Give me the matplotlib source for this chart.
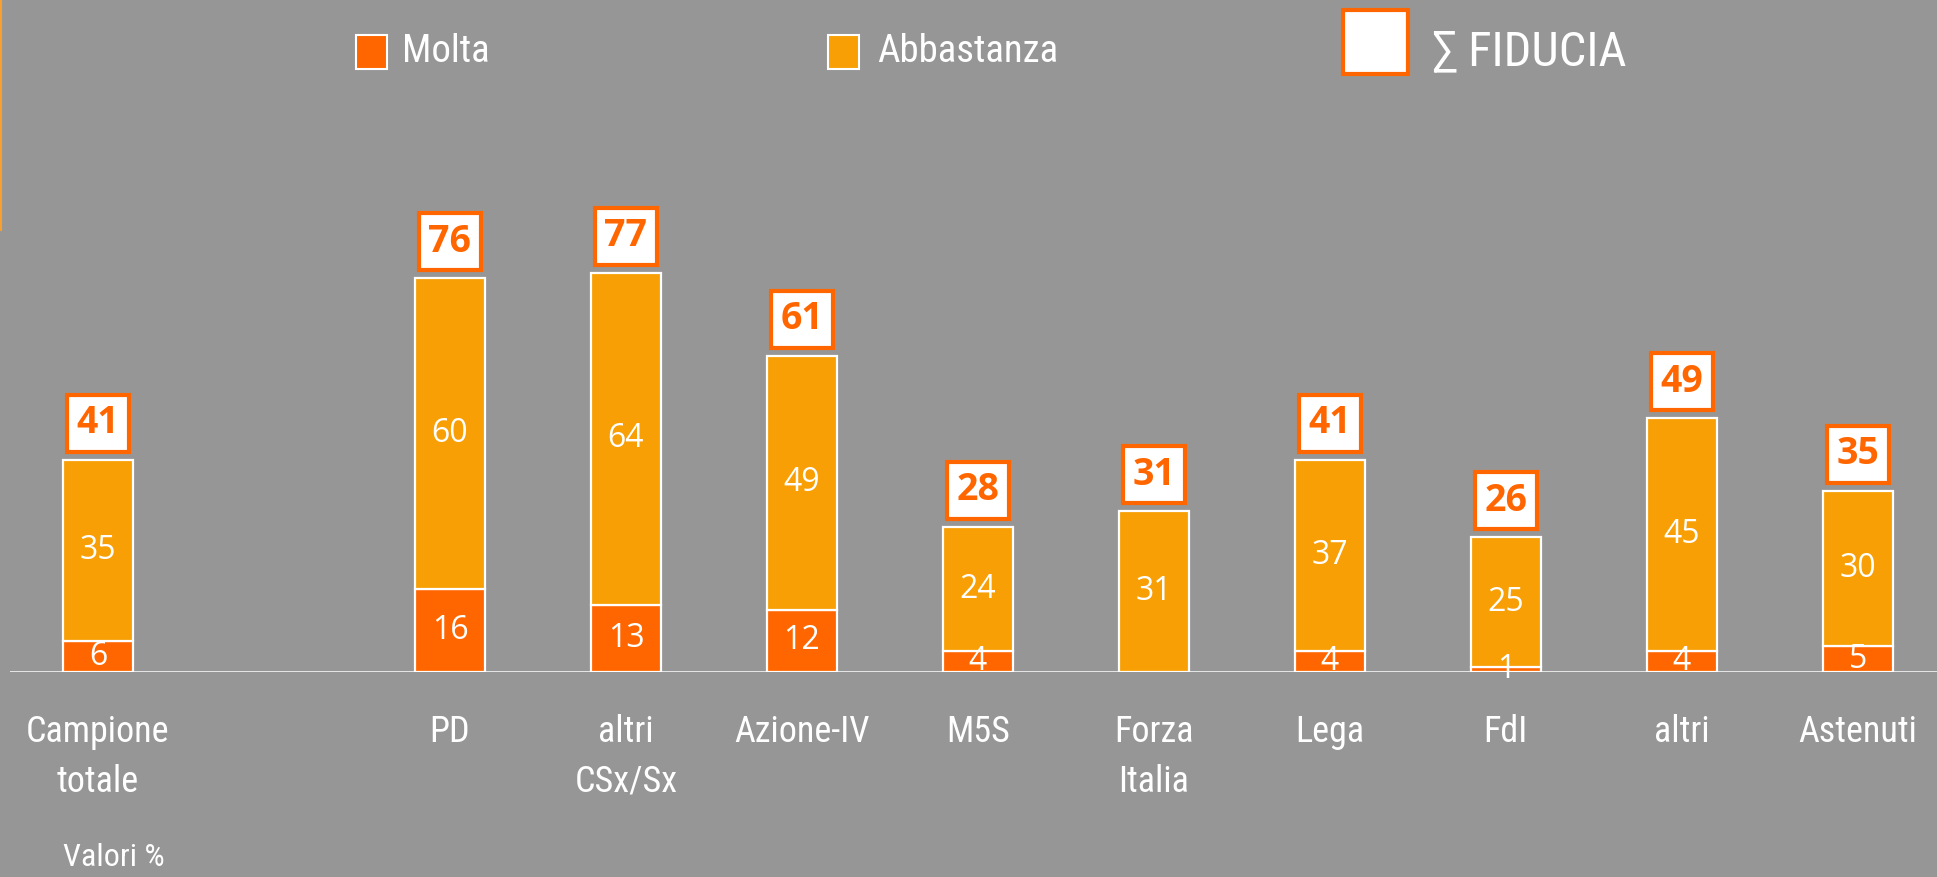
import matplotlib
matplotlib.use("Agg")
import matplotlib.pyplot as plt
from matplotlib import font_manager as fm
from matplotlib.patches import Rectangle
from matplotlib.lines import Line2D

categories = ["Campione\ntotale", "PD", "altri\nCSx/Sx", "Azione-IV", "M5S",
              "Forza\nItalia", "Lega", "FdI", "altri", "Astenuti"]
positions = [0, 2, 3, 4, 5, 6, 7, 8, 9, 10]
molta = [6, 16, 13, 12, 4, 0, 4, 1, 4, 5]
abbastanza = [35, 60, 64, 49, 24, 31, 37, 25, 45, 30]
fiducia = [41, 76, 77, 61, 28, 31, 41, 26, 49, 35]

BG = "#969696"
C_MOLTA = "#FF6600"
C_ABB = "#F79F04"

names = {f.name for f in fm.fontManager.ttflist}
cond = None
for cand in ["Roboto Condensed", "Liberation Sans Narrow", "Open Sans Condensed"]:
    if cand in names:
        cond = cand
        break
if cond is None:
    cond_kw = dict(family="DejaVu Sans", stretch="condensed")
else:
    cond_kw = dict(family=cond)
num_font = "Open Sans" if "Open Sans" in names else "DejaVu Sans"

W, H = 1937, 877
AX_L, AX_W, AX_H = 10, W - 10, 526
XLIM = (-0.5, 10.45)
YLIM = (0, 101.5)

fig = plt.figure(figsize=(W / 100, H / 100), dpi=100, facecolor=BG)
ax = fig.add_axes([AX_L / W, 1 - 672 / H, AX_W / W, AX_H / H])
ax.set_facecolor(BG)
ax.set_xlim(*XLIM)
ax.set_ylim(*YLIM)
for s in ax.spines.values():
    s.set_visible(False)
ax.set_xticks([])
ax.set_yticks([])
ax.axhline(0, color="white", lw=1.8, zorder=5)

ppx = AX_W / (XLIM[1] - XLIM[0])   # pixels per x unit
ppy = AX_H / (YLIM[1] - YLIM[0])   # pixels per y unit

bw = 0.4
ax.bar(positions, molta, width=bw, color=C_MOLTA, edgecolor="white", linewidth=1.6, zorder=3)
ax.bar(positions, abbastanza, width=bw, bottom=molta, color=C_ABB, edgecolor="white",
       linewidth=1.6, zorder=3)

box_w, box_h, gap = 62 / ppx, 57 / ppy, 8 / ppy
for x, m, a, t, lab in zip(positions, molta, abbastanza, fiducia, categories):
    if m > 0:
        ax.text(x, m / 2, str(m), ha="center", va="center", color="white",
                fontsize=23, family=num_font, zorder=6)
    ax.text(x, m + a / 2, str(a), ha="center", va="center", color="white",
            fontsize=23, family=num_font, zorder=6)
    y0 = m + a + gap
    ax.add_patch(Rectangle((x - box_w / 2, y0), box_w, box_h, fc="white", ec=C_MOLTA,
                           lw=3, zorder=7, clip_on=False))
    ax.text(x, y0 + box_h / 2, str(t), ha="center", va="center", color=C_MOLTA,
            fontsize=27, fontweight="bold", family=num_font, zorder=8)
    ax.annotate(lab, xy=(x, 0), xytext=(0, -30), textcoords="offset points",
                ha="center", va="top", color="white", fontsize=26,
                linespacing=1.5, annotation_clip=False, **cond_kw)

fig.text(114 / W, 1 - 857 / H, "Valori %", ha="center", va="center", color="white",
         fontsize=23, **cond_kw)


def fx(p):
    return p / W


def fy(p):
    return 1 - p / H


# legend
fig.patches.append(Rectangle((fx(356), fy(69)), 31 / W, 34 / H, transform=fig.transFigure,
                             fc=C_MOLTA, ec="white", lw=1.5))
fig.text(fx(402), fy(51), "Molta", ha="left", va="center", color="white", fontsize=28,
         **cond_kw)
fig.patches.append(Rectangle((fx(828), fy(69)), 31 / W, 34 / H, transform=fig.transFigure,
                             fc=C_ABB, ec="white", lw=1.5))
fig.text(fx(877), fy(51), "Abbastanza", ha="left", va="center", color="white", fontsize=28,
         **cond_kw)
fig.patches.append(Rectangle((fx(1343), fy(74)), 65 / W, 64 / H, transform=fig.transFigure,
                             fc="white", ec=C_MOLTA, lw=3))
fig.text(fx(1432), fy(52), "\u2211 FIDUCIA", ha="left", va="center", color="white",
         fontsize=35, **cond_kw)

fig.lines.append(Line2D([fx(1), fx(1)], [fy(0), fy(230)], transform=fig.transFigure,
                        color="#F5A030", lw=1.5))

fig.savefig("out.png", dpi=100, facecolor=BG)
